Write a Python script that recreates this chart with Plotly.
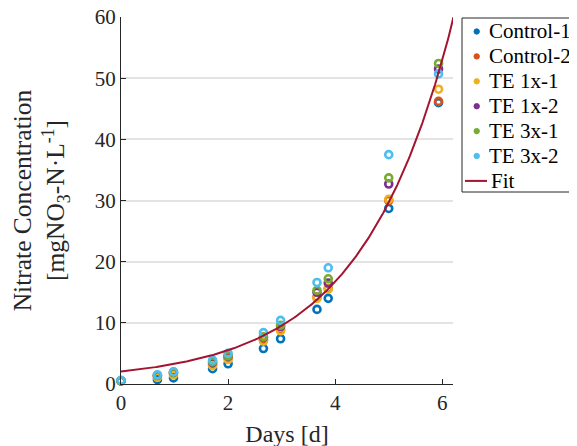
import numpy as np
import plotly.graph_objects as go

# ---- data ----
days = [0, 0.68, 0.98, 1.71, 2.0, 2.66, 2.98, 3.66, 3.87, 5.0, 5.93]

control_1 = [0.5, 0.7, 1.0, 2.5, 3.3, 5.8, 7.4, 12.2, 14.0, 28.7, 46.0]
control_2 = [0.5, 1.3, 1.7, 3.2, 4.2, 7.2, 8.9, 14.2, 15.6, 30.0, 46.2]
te_1x_1 = [0.5, 1.1, 1.5, 3.0, 4.0, 7.0, 8.7, 14.0, 15.5, 30.2, 48.2]
te_1x_2 = [0.5, 1.4, 1.9, 3.5, 4.5, 7.6, 9.4, 15.0, 16.5, 32.7, 51.5]
te_3x_1 = [0.5, 1.4, 1.9, 3.6, 4.6, 7.7, 9.6, 15.3, 17.2, 33.7, 52.4]
te_3x_2 = [0.6, 1.5, 2.0, 3.9, 5.0, 8.4, 10.4, 16.6, 19.0, 37.5, 50.7]

series_names = ["Control-1", "Control-2", "TE 1x-1", "TE 1x-2", "TE 3x-1", "TE 3x-2"]
series_values = [control_1, control_2, te_1x_1, te_1x_2, te_3x_1, te_3x_2]
series_colors = ["#0072BD", "#D95319", "#EDB120", "#7E2F8E", "#77AC30", "#4DBEEE"]

# fitted model y = a*exp(b*t) + c (parameters)
fit_name = "Fit"
fit_a, fit_b, fit_c = 1.55, 0.587, 0.5
fit_color = "#A2142F"

x_ticks = [0, 2, 4, 6]
y_ticks = [0, 10, 20, 30, 40, 50, 60]

FONT = "Liberation Serif"
AXIS_COLOR = "#262626"

# ---- layout geometry (figure pixels) ----
W, H = 577, 446
PL, PR, PT, PB = 113, 445, 9, 376  # plot area edges
PAGE_OFF = 8                       # page body margin


def pxx(xp):
    """page-pixel x -> paper x"""
    return (xp - PAGE_OFF - PL) / (PR - PL)


def pxy(yp):
    """page-pixel y -> paper y"""
    return (PB - (yp - PAGE_OFF)) / (PB - PT)


fig = go.Figure()

for name, vals, col in zip(series_names, series_values, series_colors):
    fig.add_trace(go.Scatter(
        x=days, y=vals, mode="markers", name=name,
        showlegend=False, cliponaxis=False,
        marker=dict(symbol="circle-open", size=7, color=col,
                    line=dict(width=2.6, color=col)),
    ))

t_fit = np.linspace(0, 6.4, 300)
y_fit = fit_a * np.exp(fit_b * t_fit) + fit_c
fig.add_trace(go.Scatter(
    x=t_fit, y=y_fit, mode="lines", name=fit_name, showlegend=False,
    line=dict(color=fit_color, width=2),
))

# ---- legend drawn by hand (box, symbols, labels) ----
shapes = []
annotations = []
leg_left, leg_top, leg_bottom, leg_right = 462, 18, 192, 610
shapes.append(dict(type="rect", xref="paper", yref="paper",
                   x0=pxx(leg_left), x1=pxx(leg_right),
                   y0=pxy(leg_bottom), y1=pxy(leg_top),
                   line=dict(color=AXIS_COLOR, width=1), fillcolor="white",
                   layer="above"))
row0, row_gap = 31.5, 24.9
dot_x, dot_r = 476.7, 2.7
text_x = 487.0
labels = series_names + [fit_name]
for i, lab in enumerate(labels):
    yc = row0 + row_gap * i
    if i < len(series_names):
        col = series_colors[i]
        shapes.append(dict(type="circle", xref="paper", yref="paper",
                           x0=pxx(dot_x - dot_r), x1=pxx(dot_x + dot_r),
                           y0=pxy(yc + dot_r), y1=pxy(yc - dot_r),
                           line=dict(color=col, width=1), fillcolor=col,
                           layer="above"))
    else:
        shapes.append(dict(type="line", xref="paper", yref="paper",
                           x0=pxx(465), x1=pxx(487), y0=pxy(yc), y1=pxy(yc),
                           line=dict(color=fit_color, width=2), layer="above"))
    annotations.append(dict(text=lab, xref="paper", yref="paper",
                            x=pxx(text_x + (2 if i == len(series_names) else 0)), y=pxy(yc),
                            xanchor="left", yanchor="middle", showarrow=False,
                            font=dict(family=FONT, size=21, color="#000000")))

fig.update_layout(
    width=W, height=H,
    margin=dict(l=PL, r=W - PR, t=PT, b=H - PB, autoexpand=False),
    paper_bgcolor="white", plot_bgcolor="white",
    font=dict(family=FONT, size=21, color=AXIS_COLOR),
    showlegend=False,
    shapes=shapes, annotations=annotations,
)

fig.update_xaxes(
    range=[0, 6.2], tickvals=x_ticks, ticktext=[str(v) for v in x_ticks],
    showgrid=False, zeroline=False,
    showline=True, linecolor=AXIS_COLOR, linewidth=1,
    ticks="inside", ticklen=5, tickcolor=AXIS_COLOR,
    ticklabeloverflow="allow",
    tickfont=dict(family=FONT, size=21, color=AXIS_COLOR),
    title=dict(text="Days [d]", font=dict(family=FONT, size=24, color=AXIS_COLOR), standoff=10),
)
fig.update_yaxes(
    range=[0, 60], tickvals=y_ticks, ticktext=[str(v) for v in y_ticks],
    showgrid=True, gridcolor="#e3e3e3", gridwidth=1.5, zeroline=False,
    showline=True, linecolor=AXIS_COLOR, linewidth=1,
    ticks="inside", ticklen=5, tickcolor=AXIS_COLOR,
    ticklabeloverflow="allow",
    tickfont=dict(family=FONT, size=21, color=AXIS_COLOR),
    title=dict(text="Nitrate Concentration<br>[mgNO<sub>3</sub>-N·L<sup>-1</sup>]",
               font=dict(family=FONT, size=25.5, color=AXIS_COLOR), standoff=22),
)

fig.write_html("out.html")
